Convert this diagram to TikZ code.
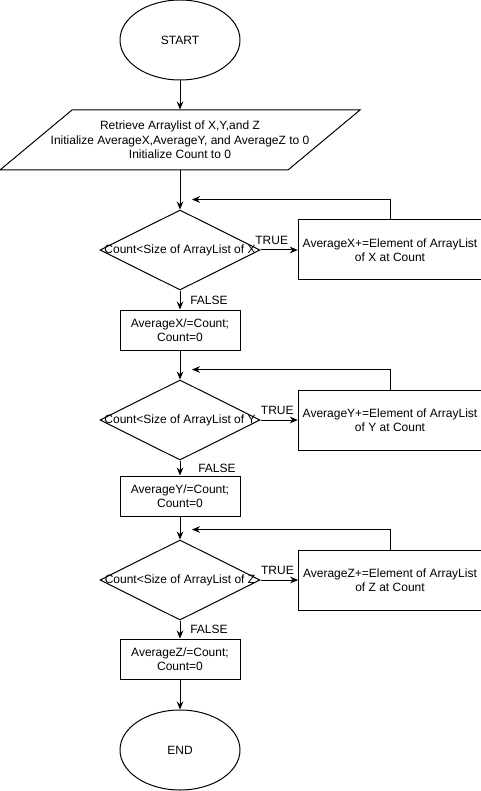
\documentclass[tikz,border=0pt]{standalone}
\usepackage{fontspec}
\setmainfont{Liberation Sans}
\usetikzlibrary{shapes.geometric}
\usetikzlibrary{arrows.meta}
\usetikzlibrary{calc}

\begin{document}
\begin{tikzpicture}[x = 0.75pt, y = -0.75pt, line width = 0.75pt,
        every node/.style = {font = \fontsize{9pt}{10.8pt}\selectfont},
        terminal/.style = {draw, ellipse, minimum width = 90pt, minimum height = 60pt},
        block/.style = {draw, rectangle, align = center, minimum width = 90pt, minimum height = 30pt},
        wideblock/.style = {draw, rectangle, align = center, minimum width = 135pt, minimum height = 45pt},
        decision/.style = {draw, diamond, minimum width = 120pt, minimum height = 60pt, inner sep = 0pt},
        flow/.style = {-{Stealth[length = 6pt, width = 5pt]}}]
        \useasboundingbox (0, 0) rectangle (481, 791);

        \node[terminal] (start) at (180, 40) {START};
        \node[align = center, minimum height = 45pt] (init) at (180, 140)
            {Retrieve Arraylist of X,Y,and Z\\Initialize AverageX,AverageY, and AverageZ to 0\\Initialize Count to 0};
        \draw ($(init.center) + (-108, -30)$) -- ($(init.center) + (180, -30)$)
            -- ($(init.center) + (108, 30)$) -- ($(init.center) + (-180, 30)$) -- cycle;

        % X
        \node[decision] (dx) at (180, 250) {\makebox[0pt]{Count<Size of ArrayList of X}};
        \node[wideblock] (tx) at (390, 250) {AverageX+=Element of ArrayList\\of X at Count};
        \node[block] (ax) at (180, 330) {AverageX/=Count;\\Count=0};
        \coordinate (bx) at ($(dx.north) + (12, -10)$);

        % Y
        \node[decision] (dy) at (180, 420) {\makebox[0pt]{Count<Size of ArrayList of Y}};
        \node[wideblock] (ty) at (390, 420) {AverageY+=Element of ArrayList\\of Y at Count};
        \node[block] (ay) at (180, 496) {AverageY/=Count;\\Count=0};
        \coordinate (by) at ($(dy.north) + (12, -10)$);

        % Z
        \node[decision] (dz) at (180, 580) {\makebox[0pt]{Count<Size of ArrayList of Z}};
        \node[wideblock] (tz) at (390, 580) {AverageZ+=Element of ArrayList\\of Z at Count};
        \node[block] (az) at (180, 659) {AverageZ/=Count;\\Count=0};
        \coordinate (bz) at ($(dz.north) + (12, -10)$);

        \node[terminal] (end) at (180, 750) {END};

        \draw[flow] (start) -- (init);
        \draw[flow] (init) -- (dx);
        \draw[flow] (dx) -- node[above, pos = 0.3] {TRUE} (tx);
        \draw[flow] (tx.north) |- (bx);
        \draw[flow] (dx) -- node[right, xshift = 4pt] {FALSE} (ax);
        \draw[flow] (ax) -- (dy);
        \draw[flow] (dy) -- node[above, pos = 0.45] {TRUE} (ty);
        \draw[flow] (ty.north) |- (by);
        \draw[flow] (dy) -- node[right, xshift = 10pt] {FALSE} (ay);
        \draw[flow] (ay) -- (dz);
        \draw[flow] (dz) -- node[above, pos = 0.45] {TRUE} (tz);
        \draw[flow] (tz.north) |- (bz);
        \draw[flow] (dz) -- node[right, xshift = 4pt] {FALSE} (az);
        \draw[flow] (az) -- (end);
    \end{tikzpicture}
\end{document}
